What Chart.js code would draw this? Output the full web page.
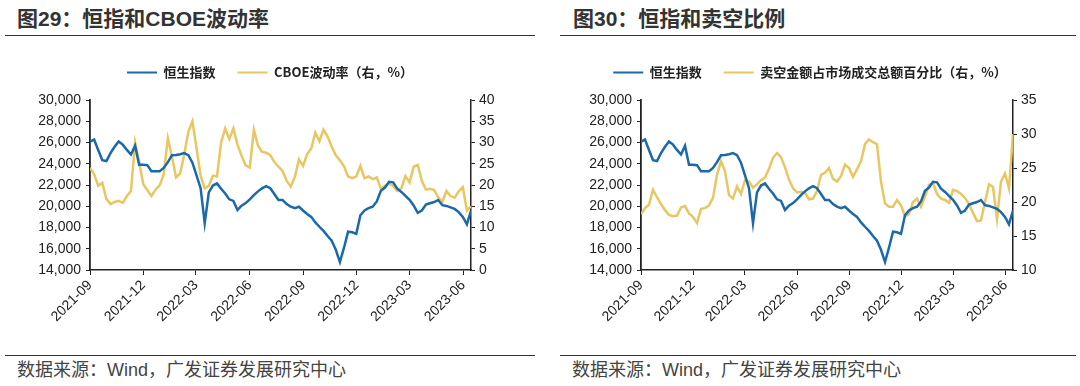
<!DOCTYPE html>
<html lang="zh-CN">
<head>
<meta charset="utf-8">
<title>恒指和CBOE波动率 / 恒指和卖空比例</title>
<script src="https://cdn.jsdelivr.net/npm/chart.js@4.4.0/dist/chart.umd.min.js"></script>
<style>
  body { margin: 0; width: 1080px; height: 386px; background: #fff; position: relative; overflow: hidden;
         font-family: "Liberation Sans", "Noto Sans CJK SC", sans-serif; color: #333; }
  .panel { position: absolute; top: 0; width: 540px; height: 386px; }
  .title { position: absolute; top: 7px; line-height: 24px; font-size: 21px; font-weight: bold; color: #333; white-space: nowrap; }
  .rule { position: absolute; border-top: 1.5px solid #333; }
  .chart { position: absolute; left: 0; top: 44px; }
  .source { position: absolute; top: 360px; line-height: 20px; font-size: 18px; color: #444; white-space: nowrap; }
</style>
</head>
<body>
<div class="panel" style="left:0">
  <div class="title" style="left:17px">图29：恒指和CBOE波动率</div>
  <div class="rule" style="left:5px;width:530px;top:35px"></div>
  <canvas class="chart" id="chart29" width="540" height="300"></canvas>
  <div class="rule" style="left:5px;width:530px;top:355px;border-top-width:1px"></div>
  <div class="source" style="left:17px">数据来源：Wind，广发证券发展研究中心</div>
</div>
<div class="panel" style="left:540px">
  <div class="title" style="left:33px">图30：恒指和卖空比例</div>
  <div class="rule" style="left:20px;width:516px;top:35px"></div>
  <canvas class="chart" id="chart30" width="540" height="300"></canvas>
  <div class="rule" style="left:20px;width:516px;top:355px;border-top-width:1px"></div>
  <div class="source" style="left:32px">数据来源：Wind，广发证券发展研究中心</div>
</div>
<script>
// 周度数据，2021-09-01 起
const hsi = [
  26080, 26280, 25300, 24330, 24250, 25000, 25600, 26100, 25800, 25300,
  24870, 25700, 23900, 23900, 23870, 23300, 23300, 23300, 23600, 24150,
  24800, 24820, 24900, 25000, 24800, 24100, 22900, 21700, 18400, 21300,
  21950, 22150, 21650, 21200, 20650, 20500, 19650, 20050, 20300, 20650,
  21050, 21400, 21690, 21900, 21700, 21150, 20600, 20600, 20200, 19960,
  19820, 19950, 19600, 19280, 19000, 18480, 18070, 17680, 17200, 16750,
  15900, 14750, 16100, 17600, 17550, 17400, 19150, 19600, 19820, 19960,
  20450, 21450, 21760, 22300, 22250, 21650, 21350, 20980, 20600, 20080,
  19380, 19600, 20150, 20280, 20400, 20590, 20100, 20030, 19900, 19750,
  19450, 19000, 18300, 19600
];
const vix = [
  24, 22.6, 19.8, 20.5, 16.7, 15.5, 16.0, 16.3, 15.8, 17.4,
  18.6, 30, 25.5, 20.2, 18.8, 17.4, 18.9, 19.9, 22.5, 31.0,
  26.7, 21.8, 22.7, 27.2, 32.5, 35, 28.7, 22.2, 19.2, 19.8,
  22.2, 22.0, 30, 33.3, 30.8, 33.3, 29.5, 26.9, 24.6, 24.1,
  33, 29.3, 27.8, 27.6, 27, 25.4, 24.3, 23.3, 21, 19.6,
  21.9, 26.0, 24.5, 27.2, 28.6, 32.3, 30.3, 33.0, 31.4, 29.0,
  27.0, 25.8, 24.4, 22.0, 21.6, 22.0, 24.5, 21.6, 22.0, 21.4,
  21.8, 19.1, 19.8, 20.3, 19.8, 18.6, 19.2, 22.1, 20.6, 24.3,
  24.7, 21.0, 18.9, 19.1, 18.8, 17.1, 16.0, 18.6, 17.4, 17.0,
  18.5, 19.5, 14.0, 15.0
];
const shortRatio = [
  18.2, 19.1, 19.6, 21.8, 20.7, 19.7, 18.8, 18.1, 17.9, 18.0,
  19.2, 19.4, 18.3, 17.8, 16.9, 19.0, 19.1, 19.5, 20.6, 24.0,
  26.0, 24.5, 21.0, 20.5, 22.3, 21.2, 23.2, 23.0, 22.1, 22.6,
  23.2, 23.6, 24.9, 26.5, 27.2, 26.6, 25.1, 23.3, 22.0, 21.4,
  21.5, 21.3, 20.4, 20.5, 21.6, 24.0, 24.3, 25.0, 23.4, 23.0,
  23.8, 25.5, 25.0, 23.7, 24.8, 26.0, 28.5, 29.2, 28.8, 28.5,
  23.0, 19.8, 19.3, 19.3, 20.3, 19.5, 17.9, 18.2, 20.0, 20.5,
  19.3, 20.8, 22.5, 22.8, 21.2, 20.5, 20.3, 19.9, 21.8, 21.6,
  21.2, 20.6, 19.7, 18.4, 17.2, 17.3, 20.0, 22.6, 22.2, 17.5,
  23.0, 24.2, 22.0, 30.0
];
const tickLabels = ['2021-09', '2021-12', '2022-03', '2022-06', '2022-09', '2022-12', '2023-03', '2023-06'];

const startDay = Date.UTC(2021, 8, 1);
const dayMs = 86400000;
const weekDays = hsi.map((v, i) => i * 7);
const tickDays = tickLabels.map(s => (Date.UTC(+s.slice(0, 4), +s.slice(5, 7) - 1, 1) - startDay) / dayMs);

const BLUE = '#1b69a9';
const YELLOW = '#e8c662';
const AXIS = '#222';
const tickFont = { family: '"Liberation Sans", Arial, sans-serif', size: 14 };

// 图例与绘图区之间留白
const legendGap = {
  id: 'legendGap',
  beforeInit(chart, args, opts) {
    const fit = chart.legend.fit;
    chart.legend.fit = function () {
      fit.call(chart.legend);
      this.height += opts.extra;
    };
  }
};

function makeChart(id, rightSeries, rightLabel, rightAxis, leftWidth, rightWidth) {
  const ctx = document.getElementById(id).getContext('2d');
  return new Chart(ctx, {
    type: 'line',
    data: {
      datasets: [{
        label: '恒生指数',
        data: hsi.map((v, i) => ({ x: weekDays[i], y: v })),
        yAxisID: 'y',
        borderColor: BLUE,
        backgroundColor: BLUE,
        borderWidth: 2.5
      }, {
        label: rightLabel,
        data: rightSeries.map((v, i) => ({ x: weekDays[i], y: v })),
        yAxisID: 'y1',
        borderColor: YELLOW,
        backgroundColor: YELLOW,
        borderWidth: 2.5
      }]
    },
    options: {
      responsive: false,
      animation: false,
      elements: { point: { radius: 0 }, line: { tension: 0 } },
      layout: { padding: 0 },
      plugins: {
        legendGap: { extra: 11 },
        tooltip: { enabled: false },
        legend: {
          position: 'top',
          labels: {
            boxWidth: 30,
            boxHeight: 2,
            padding: 22,
            color: '#222',
            font: { family: '"Noto Sans CJK SC", sans-serif', size: 13, weight: 'bold' },
            generateLabels: chart => Chart.defaults.plugins.legend.labels.generateLabels(chart)
              .map(item => ({ ...item, lineWidth: 0 }))
          }
        }
      },
      scales: {
        x: {
          type: 'linear',
          min: 0,
          max: weekDays[weekDays.length - 1],
          afterBuildTicks: scale => { scale.ticks = tickDays.map(v => ({ value: v })); },
          afterFit: scale => { scale.height = 74; },
          ticks: {
            autoSkip: false,
            minRotation: 45,
            maxRotation: 45,
            padding: 2,
            color: '#222',
            font: tickFont,
            callback: v => tickLabels[tickDays.indexOf(v)]
          },
          grid: { drawOnChartArea: false, tickLength: 5, color: AXIS },
          border: { color: AXIS, width: 1.5 }
        },
        y: {
          position: 'left',
          min: 14000,
          max: 30000,
          afterFit: scale => { scale.width = leftWidth; },
          ticks: {
            stepSize: 2000,
            padding: 5,
            color: '#222',
            font: tickFont,
            callback: v => v.toLocaleString('en-US')
          },
          grid: { drawOnChartArea: false, tickLength: 4, color: AXIS },
          border: { color: AXIS, width: 1.8 }
        },
        y1: {
          position: 'right',
          min: rightAxis.min,
          max: rightAxis.max,
          afterFit: scale => { scale.width = rightWidth; },
          ticks: { stepSize: 5, padding: 4, color: '#222', font: tickFont },
          grid: { drawOnChartArea: false, tickLength: 4, color: AXIS },
          border: { color: AXIS, width: 1.5 }
        }
      }
    },
    plugins: [legendGap]
  });
}

makeChart('chart29', vix, 'CBOE波动率（右，%）', { min: 0, max: 40 }, 90, 69);
makeChart('chart30', shortRatio, '卖空金额占市场成交总额百分比（右，%）', { min: 10, max: 35 }, 101, 67);
</script>
</body>
</html>
